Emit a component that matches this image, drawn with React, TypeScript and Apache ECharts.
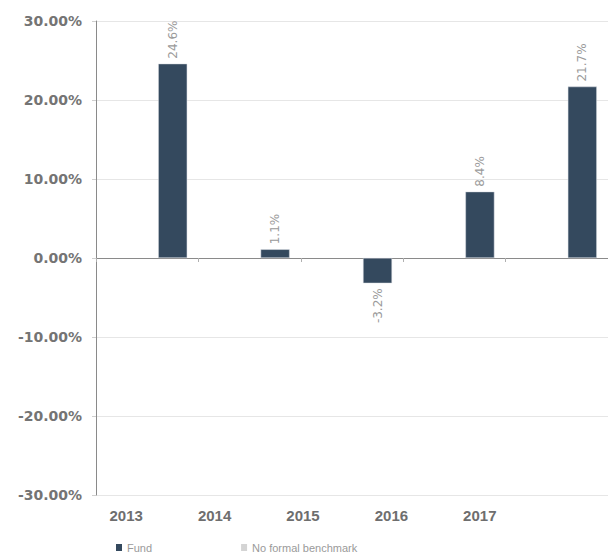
import React, { useEffect, useRef } from "react";
import * as echarts from "echarts";

const categories = ["2013", "2014", "2015", "2016", "2017"];
const fundValues = [24.6, 1.1, -3.2, 8.4, 21.7];
const benchmarkValues: (number | null)[] = [null, null, null, null, null];
const yTicks = { min: -30, max: 30, interval: 10 };
const seriesNames = ["Fund", "No formal benchmark"];

export default function App() {
  const ref = useRef<HTMLDivElement>(null);
  useEffect(() => {
    document.body.style.margin = "0";
    const chart = echarts.init(ref.current!, undefined, { renderer: "svg" });
    const option: any = {
      animation: false,
      backgroundColor: "#ffffff",
      legend: {
        left: 111,
        top: 537,
        itemWidth: 6,
        itemHeight: 7,
        itemGap: 89,
        icon: "rect",
        data: seriesNames,
        inactiveColor: "#9a9a9a",
        itemStyle: { borderWidth: 0 },
        textStyle: { color: "#9a9a9a", fontSize: 11, fontFamily: "Liberation Sans" },
      },
      grid: [
        { left: 96, right: 0, top: 21, bottom: 58, containLabel: false },
        { left: 82, right: 84, top: 21, bottom: 58, containLabel: false },
      ],
      xAxis: [
        {
          type: "category",
          gridIndex: 0,
          data: categories,
          axisLine: { onZero: true, lineStyle: { color: "#8a8a8a", width: 1 } },
          axisTick: { show: true, length: 4, inside: false, lineStyle: { color: "#b0b0b0" } },
          axisLabel: { show: false },
          splitLine: { show: false },
        },
        {
          type: "category",
          gridIndex: 1,
          data: categories,
          axisLine: { show: false },
          axisTick: { show: false },
          axisLabel: {
            show: true,
            margin: 13,
            color: "#6e6e6e",
            fontSize: 15,
            fontWeight: "bold",
            fontFamily: "Liberation Sans",
          },
        },
      ],
      yAxis: [
        {
          type: "value",
          gridIndex: 0,
          min: yTicks.min,
          max: yTicks.max,
          interval: yTicks.interval,
          axisLine: { show: true, lineStyle: { color: "#8a8a8a", width: 1 } },
          axisTick: { show: true, length: 4, lineStyle: { color: "#cfcfcf" } },
          splitLine: { show: true, lineStyle: { color: "#e6e6e6", width: 1 } },
          axisLabel: {
            margin: 14,
            color: "#747474",
            fontSize: 14,
            fontWeight: "bold",
            fontFamily: "DejaVu Sans",
            formatter: (v: number) => v.toFixed(2) + "%",
          },
        },
        {
          type: "value",
          gridIndex: 1,
          show: false,
          min: yTicks.min,
          max: yTicks.max,
        },
      ],
      series: [
        {
          name: seriesNames[1],
          type: "bar",
          xAxisIndex: 0,
          yAxisIndex: 0,
          data: benchmarkValues,
          barWidth: 29,
          barGap: "76%",
          itemStyle: { color: "#d4d4d4" },
        },
        {
          name: seriesNames[0],
          type: "bar",
          xAxisIndex: 0,
          yAxisIndex: 0,
          barWidth: 29,
          barGap: "76%",
          itemStyle: { color: "#34495e", borderColor: "#d8dde2", borderWidth: 0.5 },
          data: fundValues.map((v) => ({
            value: v,
            label: {
              show: true,
              position: v >= 0 ? "top" : "bottom",
              rotate: 90,
              align: v >= 0 ? "left" : "right",
              verticalAlign: "middle",
              distance: 5,
              color: "#9a9a9a",
              fontSize: 12,
              fontFamily: "DejaVu Sans",
              formatter: (p: any) => p.value.toFixed(1) + "%",
            },
          })),
        },
      ],
    };
    chart.setOption(option);
    return () => chart.dispose();
  }, []);
  return (
    <div
      ref={ref}
      style={{ position: "fixed", left: 0, top: 0, width: 608, height: 553 }}
    />
  );
}
